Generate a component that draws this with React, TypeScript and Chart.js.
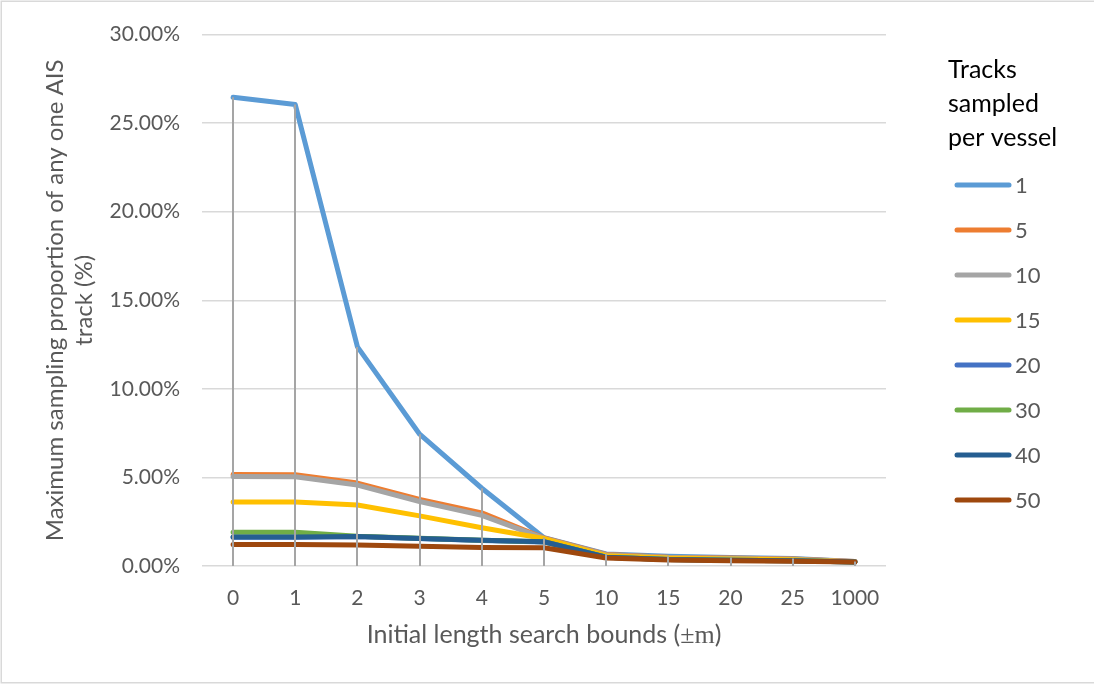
import { useEffect, useRef } from "react";
import { Chart, registerables } from "chart.js";

Chart.register(...registerables);

// Initial length search bounds (±m)
const categories = ["0", "1", "2", "3", "4", "5", "10", "15", "20", "25", "1000"];

// Tracks sampled per vessel
const seriesNames = ["1", "5", "10", "15", "20", "30", "40", "50"];

// Maximum sampling proportion of any one AIS track, in percent
const tracks1 = [26.46, 26.05, 12.37, 7.44, 4.39, 1.6, 0.68, 0.55, 0.48, 0.42, 0.25];
const tracks5 = [5.16, 5.15, 4.68, 3.76, 3.0, 1.58, 0.65, 0.5, 0.45, 0.4, 0.25];
const tracks10 = [5.05, 5.04, 4.57, 3.64, 2.86, 1.56, 0.62, 0.48, 0.43, 0.38, 0.24];
const tracks15 = [3.61, 3.61, 3.44, 2.83, 2.16, 1.55, 0.58, 0.45, 0.4, 0.35, 0.23];
const tracks20 = [1.63, 1.63, 1.66, 1.55, 1.44, 1.36, 0.5, 0.37, 0.32, 0.29, 0.22];
const tracks30 = [1.91, 1.91, 1.68, 1.56, 1.45, 1.37, 0.5, 0.37, 0.32, 0.29, 0.22];
const tracks40 = [1.64, 1.64, 1.67, 1.55, 1.45, 1.37, 0.5, 0.37, 0.32, 0.29, 0.22];
const tracks50 = [1.22, 1.22, 1.18, 1.11, 1.05, 1.03, 0.45, 0.34, 0.3, 0.27, 0.22];

const seriesValues = [tracks1, tracks5, tracks10, tracks15, tracks20, tracks30, tracks40, tracks50];
const seriesColors = ["#5B9BD5", "#ED7D31", "#A5A5A5", "#FFC000", "#4472C4", "#70AD47", "#255E91", "#9E480E"];

// Value axis
const yMin = 0;
const yMax = 30;
const yStep = 5;

const yTitleLines = ["Maximum sampling proportion of any one AIS", "track (%)"];
const xTitleMain = "Initial length search bounds (";
const xTitleSymbol = "±m";
const xTitleEnd = ")";
const legendTitleLines = ["Tracks", "sampled", "per vessel"];

const W = 1094;
const H = 684;
const SANS = "Lato, 'Liberation Sans', sans-serif";
const SERIF = "'Liberation Serif', 'DejaVu Serif', serif";
const TEXT_GREY = "#595959";

const frame = {
  id: "frame",
  beforeDraw(chart: any) {
    const ctx = chart.ctx;
    ctx.save();
    ctx.fillStyle = "#ffffff";
    ctx.fillRect(0, 0, chart.width, chart.height);
    ctx.strokeStyle = "#D9D9D9";
    ctx.lineWidth = 1.5;
    ctx.strokeRect(1.25, 1.25, chart.width + 10, chart.height - 2.5);
    ctx.restore();
  },
};

// Vertical drop lines from the highest series down to the category axis
const dropLines = {
  id: "dropLines",
  afterDatasetsDraw(chart: any) {
    const ctx = chart.ctx;
    const xs = chart.scales.x;
    const ys = chart.scales.y;
    ctx.save();
    ctx.strokeStyle = "#A5A5A5";
    ctx.lineWidth = 2;
    categories.forEach((_, i) => {
      let top = -Infinity;
      chart.data.datasets.forEach((ds: any) => {
        if (ds.data[i] > top) top = ds.data[i];
      });
      const x = Math.round(xs.getPixelForValue(i));
      ctx.beginPath();
      ctx.moveTo(x, ys.getPixelForValue(top));
      ctx.lineTo(x, ys.getPixelForValue(0));
      ctx.stroke();
    });
    ctx.restore();
  },
};

const annotations = {
  id: "annotations",
  afterDraw(chart: any) {
    const ctx = chart.ctx;
    const area = chart.chartArea;
    ctx.save();

    // Value axis title, rotated
    ctx.fillStyle = TEXT_GREY;
    ctx.font = `24px ${SANS}`;
    ctx.textAlign = "center";
    ctx.textBaseline = "middle";
    const cy = (area.top + area.bottom) / 2;
    ctx.save();
    ctx.translate(55, cy);
    ctx.rotate(-Math.PI / 2);
    ctx.fillText(yTitleLines[0], 0, 0);
    ctx.restore();
    ctx.save();
    ctx.translate(84, cy);
    ctx.rotate(-Math.PI / 2);
    ctx.fillText(yTitleLines[1], 0, 0);
    ctx.restore();

    // Category axis title, with the ±m unit set in a serif face
    ctx.textAlign = "left";
    ctx.textBaseline = "alphabetic";
    const sansFont = `25px ${SANS}`;
    const serifFont = `26px ${SERIF}`;
    ctx.font = sansFont;
    const w1 = ctx.measureText(xTitleMain).width;
    const w3 = ctx.measureText(xTitleEnd).width;
    ctx.font = serifFont;
    const w2 = ctx.measureText(xTitleSymbol).width;
    let tx = (area.left + area.right) / 2 - (w1 + w2 + w3) / 2;
    const ty = 643;
    ctx.font = sansFont;
    ctx.fillText(xTitleMain, tx, ty);
    tx += w1;
    ctx.font = serifFont;
    ctx.fillText(xTitleSymbol, tx, ty);
    tx += w2;
    ctx.font = sansFont;
    ctx.fillText(xTitleEnd, tx, ty);

    // Legend
    ctx.fillStyle = "#000000";
    ctx.font = `25px ${SANS}`;
    legendTitleLines.forEach((line, i) => {
      ctx.fillText(line, 948, 78 + i * 34);
    });
    ctx.font = `22px ${SANS}`;
    ctx.textBaseline = "middle";
    seriesNames.forEach((name, i) => {
      const ly = 185 + i * 45;
      ctx.strokeStyle = seriesColors[i];
      ctx.lineWidth = 5;
      ctx.lineCap = "round";
      ctx.beginPath();
      ctx.moveTo(957, ly);
      ctx.lineTo(1009, ly);
      ctx.stroke();
      ctx.fillStyle = TEXT_GREY;
      ctx.fillText(name, 1015, ly + 1);
    });

    ctx.restore();
  },
};

export default function App() {
  const canvasRef = useRef<HTMLCanvasElement | null>(null);

  useEffect(() => {
    if (!canvasRef.current) return;
    const chart = new Chart(canvasRef.current, {
      type: "line",
      data: {
        labels: categories,
        datasets: seriesNames.map((name, i) => ({
          label: name,
          data: seriesValues[i],
          borderColor: seriesColors[i],
          backgroundColor: seriesColors[i],
          borderWidth: 5,
          borderCapStyle: "round",
          borderJoinStyle: "round",
          pointRadius: 0,
          pointHoverRadius: 0,
          tension: 0,
          fill: false,
          order: seriesNames.length - i,
        })),
      },
      options: {
        responsive: false,
        maintainAspectRatio: false,
        animation: false,
        layout: { padding: { left: 0, right: 208, top: 31, bottom: 0 } },
        plugins: {
          legend: { display: false },
          tooltip: { enabled: false },
          title: { display: false },
        },
        scales: {
          x: {
            type: "category",
            offset: true,
            grid: { display: false, drawTicks: false },
            border: { display: false },
            ticks: {
              color: TEXT_GREY,
              font: { family: SANS, size: 21 },
              padding: 20,
              maxRotation: 0,
              autoSkip: false,
            },
            afterFit(scale: any) {
              scale.height = 118;
            },
          },
          y: {
            min: yMin,
            max: yMax,
            grid: { color: "#D9D9D9", lineWidth: 1.5, drawTicks: false },
            border: { display: false },
            ticks: {
              stepSize: yStep,
              color: TEXT_GREY,
              font: { family: SANS, size: 21 },
              padding: 22,
              callback: (v: any) => `${Number(v).toFixed(2)}%`,
            },
            afterFit(scale: any) {
              scale.width = 202;
            },
          },
        },
      },
      plugins: [frame, dropLines, annotations],
    });
    return () => chart.destroy();
  }, []);

  return (
    <div style={{ position: "fixed", left: 0, top: 0, width: W, height: H, background: "#fff" }}>
      <canvas ref={canvasRef} width={W} height={H} style={{ display: "block", width: W, height: H }} />
    </div>
  );
}
